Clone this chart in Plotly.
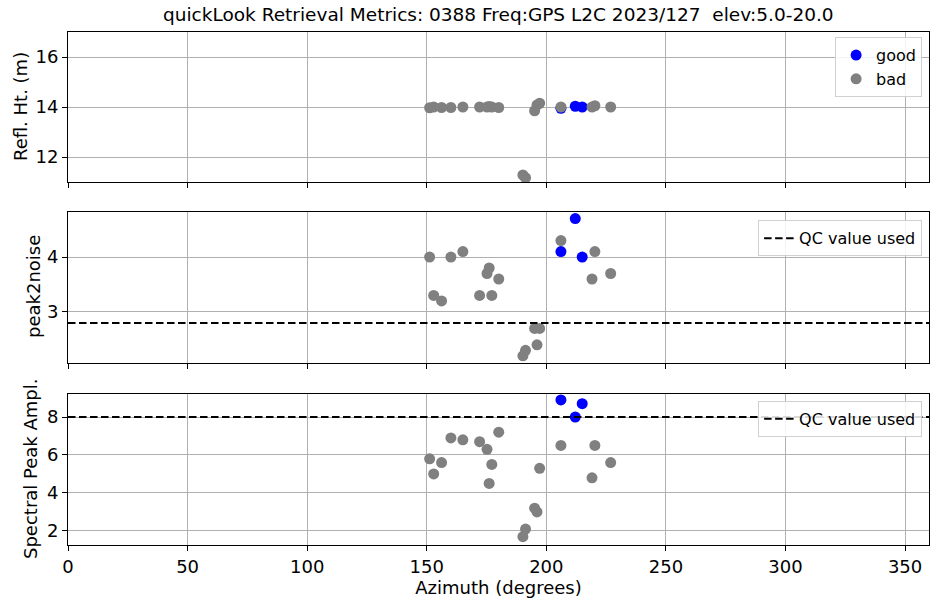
import plotly.graph_objects as go

# Azimuth (deg) of each retrieval
good_az = [206.1, 212.1, 215.0]
bad_az = [151.2, 152.9, 156.2, 160.1, 165.1, 172.1, 175.2, 176.1, 177.2, 180.1,
          190.2, 191.3, 195.1, 196.1, 197.2, 206.1, 219.1, 220.3, 226.9]

# Reflector height (m)
good_rh = [13.95, 14.03, 14.0]
bad_rh = [13.97, 14.0, 13.98, 13.98, 14.0, 14.0, 14.0, 14.02, 14.0, 13.98,
          11.28, 11.17, 13.85, 14.08, 14.15, 14.0, 14.0, 14.05, 14.0]

# Peak-to-noise ratio
good_pn = [4.1, 4.7, 4.0]
bad_pn = [4.0, 3.3, 3.2, 4.0, 4.1, 3.3, 3.7, 3.8, 3.3, 3.6,
          2.2, 2.3, 2.7, 2.4, 2.7, 4.3, 3.6, 4.1, 3.7]

# Spectral peak amplitude
good_amp = [8.9, 8.0, 8.7]
bad_amp = [5.8, 5.0, 5.6, 6.9, 6.8, 6.7, 6.3, 4.5, 5.5, 7.2,
           1.7, 2.1, 3.2, 3.0, 5.3, 6.5, 4.8, 6.5, 5.6]

qc_pn = 2.8
qc_amp = 8.0
az_range = [0, 360]

title_text = "quickLook Retrieval Metrics: 0388 Freq:GPS L2C 2023/127  elev:5.0-20.0"

FONT = "DejaVu Sans"
BLUE = "#0000ff"
GRAY = "#808080"
GRID = "#b0b0b0"
MSIZE = 11
TICK_SIZE = 18
LABEL_SIZE = 18
DASH = "7.5px,3.5px"

fig = go.Figure()

# Panel 1: reflector height
fig.add_trace(go.Scatter(x=good_az, y=good_rh, mode="markers", name="good",
                         marker=dict(color=BLUE, size=MSIZE), xaxis="x", yaxis="y",
                         legend="legend"))
fig.add_trace(go.Scatter(x=bad_az, y=bad_rh, mode="markers", name="bad",
                         marker=dict(color=GRAY, size=MSIZE), xaxis="x", yaxis="y",
                         legend="legend"))

# Panel 2: peak2noise
fig.add_trace(go.Scatter(x=good_az, y=good_pn, mode="markers", showlegend=False,
                         marker=dict(color=BLUE, size=MSIZE), xaxis="x2", yaxis="y2"))
fig.add_trace(go.Scatter(x=bad_az, y=bad_pn, mode="markers", showlegend=False,
                         marker=dict(color=GRAY, size=MSIZE), xaxis="x2", yaxis="y2"))
fig.add_trace(go.Scatter(x=az_range, y=[qc_pn, qc_pn], mode="lines", name="QC value used",
                         line=dict(color="black", width=2, dash=DASH),
                         xaxis="x2", yaxis="y2", legend="legend2"))

# Panel 3: spectral peak amplitude
fig.add_trace(go.Scatter(x=good_az, y=good_amp, mode="markers", showlegend=False,
                         marker=dict(color=BLUE, size=MSIZE), xaxis="x3", yaxis="y3"))
fig.add_trace(go.Scatter(x=bad_az, y=bad_amp, mode="markers", showlegend=False,
                         marker=dict(color=GRAY, size=MSIZE), xaxis="x3", yaxis="y3"))
fig.add_trace(go.Scatter(x=az_range, y=[qc_amp, qc_amp], mode="lines", name="QC value used",
                         line=dict(color="black", width=2, dash=DASH),
                         xaxis="x3", yaxis="y3", legend="legend3"))

axis_common = dict(showline=True, linecolor="black", linewidth=1, mirror=True,
                   ticks="outside", ticklen=5, tickwidth=1, tickcolor="black",
                   showgrid=True, gridcolor=GRID, gridwidth=1, zeroline=False,
                   tickfont=dict(family=FONT, size=TICK_SIZE, color="black"))

xcommon = dict(axis_common, range=az_range, tickvals=[0, 50, 100, 150, 200, 250, 300, 350])

legend_common = dict(bgcolor="rgba(255,255,255,0.85)", bordercolor="#d0d0d0", borderwidth=1,
                     font=dict(family=FONT, size=16, color="black"),
                     xanchor="right", yanchor="top", x=0.992)

fig.update_layout(
    width=930, height=600,
    margin=dict(l=68, r=1, t=32, b=55),
    plot_bgcolor="white", paper_bgcolor="white",
    font=dict(family=FONT, size=LABEL_SIZE, color="black"),
    xaxis=dict(xcommon, anchor="y", domain=[0, 1], showticklabels=False, matches="x3"),
    xaxis2=dict(xcommon, anchor="y2", domain=[0, 1], showticklabels=False, matches="x3"),
    xaxis3=dict(xcommon, anchor="y3", domain=[0, 1],
                title=dict(text="Azimuth (degrees)", standoff=2,
                           font=dict(family=FONT, size=LABEL_SIZE, color="black"))),
    yaxis=dict(axis_common, domain=[0.7076, 1.0], range=[11, 17], tickvals=[12, 14, 16]),
    yaxis2=dict(axis_common, domain=[0.3548, 0.6491], range=[2.07, 4.82], tickvals=[3, 4]),
    yaxis3=dict(axis_common, domain=[0.0, 0.2943], range=[1.26, 9.21], tickvals=[2, 4, 6, 8]),
    legend=dict(legend_common, y=0.99),
    legend2=dict(legend_common, y=0.633),
    legend3=dict(legend_common, y=0.281),
    showlegend=True,
)

# Title and y-axis labels
fig.add_annotation(text=title_text, xref="paper", yref="paper", x=0.5, y=1,
                   yshift=18, showarrow=False, yanchor="middle",
                   font=dict(family=FONT, size=18.5, color="black"))
for label, ypix, xpix in [("Refl. Ht. (m)", 107, 20), ("peak2noise", 287, 33),
                          ("Spectral Peak Ampl.", 469, 30)]:
    fig.add_annotation(text=label, xref="paper", yref="paper",
                       x=(xpix - 68) / 861, y=(545 - ypix) / 513,
                       textangle=-90, showarrow=False, xanchor="center", yanchor="middle",
                       font=dict(family=FONT, size=LABEL_SIZE, color="black"))

fig.write_html("out.html")
